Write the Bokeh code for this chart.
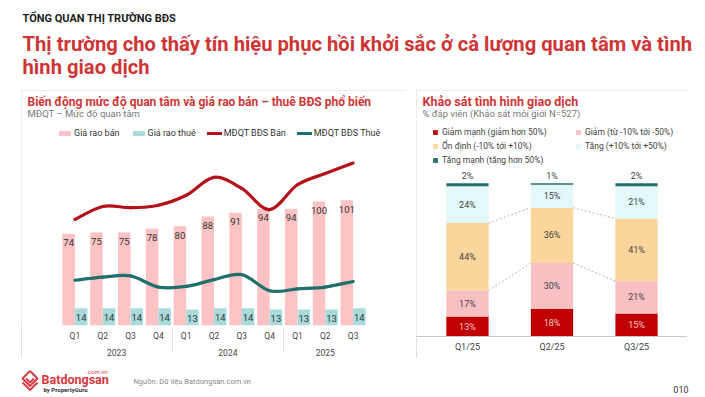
from bokeh.plotting import figure
from bokeh.models import (FactorRange, Range1d, Label, Legend, LegendItem,
                          ColumnDataSource, Spacer)
from bokeh.transform import dodge
from bokeh.layouts import column, row
from bokeh.embed import file_html
from bokeh.resources import INLINE
from bokeh.core.properties import value

FONT = "Roboto"
RED_TITLE = "#cf3535"
BORDER = "#d9d9d9"

# ---------------- Left chart data ----------------
years = ["2023", "2023", "2023", "2023", "2024", "2024", "2024", "2024", "2025", "2025", "2025"]
quarters = ["Q1", "Q2", "Q3", "Q4", "Q1", "Q2", "Q3", "Q4", "Q1", "Q2", "Q3"]
gia_ban = [74, 75, 75, 78, 80, 88, 91, 94, 94, 100, 101]
gia_thue = [14, 14, 14, 14, 13, 14, 14, 13, 13, 13, 14]
mdqt_ban = [85.5, 96, 95, 97, 105, 119.5, 110.5, 93.5, 113.5, 122.5, 131]
mdqt_thue = [36.5, 39, 40, 31, 31.5, 37, 41, 28, 29.5, 31, 35.5]

# ---------------- Right chart data ----------------
periods = ["Q1/25", "Q2/25", "Q3/25"]
giam_manh = [13, 18, 15]
giam = [17, 30, 21]
on_dinh = [44, 36, 41]
tang = [24, 15, 21]
tang_manh = [2, 1, 2]
series_names = ["Giảm mạnh (giảm hơn 50%)", "Giảm (từ -10% tới -50%)", "Ổn định (-10% tới +10%)",
                "Tăng (+10% tới +50%)", "Tăng mạnh (tăng hơn 50%)"]
series_colors = ["#c00000", "#f8c0c2", "#fad69c", "#e3f8f9", "#22706e"]


def base_fig(**kw):
    p = figure(output_backend="svg", toolbar_location=None, **kw)
    p.grid.visible = False
    p.outline_line_color = None
    p.background_fill_color = "white"
    p.border_fill_color = "white"
    p.frame_align = False
    return p


def panel_border(p):
    p.styles = {"outline": f"1px solid {BORDER}", "outline-offset": "-1px"}


# ================= Header =================
pH = base_fig(width=705, height=90, x_range=Range1d(0, 705), y_range=Range1d(90, 0),
              x_axis_location=None, y_axis_location=None, min_border=0)
pH.add_layout(Label(x=22, y=18, text="TỔNG QUAN THỊ TRƯỜNG BĐS", text_font=FONT,
                    text_font_size="11px", text_font_style="bold", text_color="#1e1e1e",
                    text_baseline="middle"))
pH.add_layout(Label(x=22, y=43, text="Thị trường cho thấy tín hiệu phục hồi khởi sắc ở cả lượng quan tâm và tình",
                    text_font=FONT, text_font_size="20.2px", text_font_style="bold",
                    text_color=RED_TITLE, text_baseline="middle"))
pH.add_layout(Label(x=22, y=66, text="hình giao dịch", text_font=FONT, text_font_size="20.2px",
                    text_font_style="bold", text_color=RED_TITLE, text_baseline="middle"))

# ================= Left panel =================
factors = list(zip(years, quarters))
xrL = FactorRange(*factors, group_padding=0, factor_padding=0,
                  range_padding=44 / 31, range_padding_units="absolute")
pL = base_fig(width=385, height=268, x_range=xrL, y_range=Range1d(0, 235 / 1.24),
              y_axis_location=None, min_border_left=0, min_border_right=0,
              min_border_top=0, min_border_bottom=33)

srcL = ColumnDataSource(dict(x=factors, ban=gia_ban, thue=gia_thue,
                             ban_s=[str(v) for v in gia_ban], thue_s=[str(v) for v in gia_thue]))
r_ban = pL.vbar(x=dodge("x", -0.225, range=xrL), top="ban", width=0.45, source=srcL,
                fill_color="#fbc3c3", line_color=None)
r_thue = pL.vbar(x=dodge("x", 0.225, range=xrL), top="thue", width=0.45, source=srcL,
                 fill_color="#a9dbdc", line_color=None)
pL.text(x=dodge("x", -0.225, range=xrL), y="ban", text="ban_s", source=srcL, y_offset=9,
        text_align="center", text_baseline="middle", text_font=value(FONT),
        text_font_size="9.5px", text_color="#333333")
pL.text(x=dodge("x", 0.225, range=xrL), y="thue", text="thue_s", source=srcL, y_offset=9,
        text_align="center", text_baseline="middle", text_font=value(FONT),
        text_font_size="9.5px", text_color="#333333")


def smooth_bezier(ys):
    """Catmull-Rom style smoothing expressed as cubic Bezier control points (categorical offsets)."""
    n = len(ys)
    d = dict(x0=[], y0=[], x1=[], y1=[], cx0=[], cy0=[], cx1=[], cy1=[])
    for i in range(n - 1):
        pm = max(i - 1, 0)
        pp = min(i + 2, n - 1)
        d["x0"].append(factors[i]); d["y0"].append(ys[i])
        d["x1"].append(factors[i + 1]); d["y1"].append(ys[i + 1])
        d["cx0"].append((*factors[i], (i + 1 - pm) / 6))
        d["cy0"].append(ys[i] + (ys[i + 1] - ys[pm]) / 6)
        d["cx1"].append((*factors[i + 1], -(pp - i) / 6))
        d["cy1"].append(ys[i + 1] - (ys[pp] - ys[i]) / 6)
    return ColumnDataSource(d)


r_mb = pL.bezier(x0="x0", y0="y0", x1="x1", y1="y1", cx0="cx0", cy0="cy0", cx1="cx1", cy1="cy1",
                 source=smooth_bezier(mdqt_ban), line_color="#b3121a",
                 line_width=3.2, line_cap="round")
r_mt = pL.bezier(x0="x0", y0="y0", x1="x1", y1="y1", cx0="cx0", cy0="cy0", cx1="cx1", cy1="cy1",
                 source=smooth_bezier(mdqt_thue), line_color="#1f6f6d",
                 line_width=3.2, line_cap="round")

legL = Legend(items=[LegendItem(label="Giá rao bán", renderers=[r_ban]),
                     LegendItem(label="Giá rao thuê", renderers=[r_thue]),
                     LegendItem(label="MĐQT BĐS Bán", renderers=[r_mb]),
                     LegendItem(label="MĐQT BĐS Thuê", renderers=[r_mt])],
              orientation="horizontal", location=(36, 187), glyph_width=15, glyph_height=6,
              label_height=10, label_standoff=2, spacing=11, padding=0, margin=0,
              border_line_color=None, background_fill_alpha=0, label_text_font_size="9px",
              label_text_color="#333333", label_text_font=FONT)
pL.add_layout(legL)

axL = pL.xaxis[0]
axL.major_tick_line_color = None
axL.major_tick_out = 0
axL.major_tick_in = 0
axL.axis_line_color = None
axL.major_label_text_font = FONT
axL.major_label_text_font_size = "8.5px"
axL.major_label_text_color = "#444444"
axL.group_text_font = FONT
axL.group_text_font_size = "8.5px"
axL.group_text_font_style = "normal"
axL.group_text_color = "#444444"
axL.separator_line_color = "#e2e2e2"
axL.separator_line_width = 1
axL.major_label_standoff = 5

pL.add_layout(Label(x=6, y=224, x_units="screen", y_units="screen",
                    text="Biến động mức độ quan tâm và giá rao bán – thuê BĐS phổ biến",
                    text_font=FONT, text_font_size="12px", text_font_style="bold",
                    text_color=RED_TITLE, text_baseline="middle"))
pL.add_layout(Label(x=6, y=212, x_units="screen", y_units="screen",
                    text="MĐQT – Mức độ quan tâm", text_font=FONT, text_font_size="9.5px",
                    text_color="#777777", text_baseline="middle"))
panel_border(pL)

# ================= Right panel =================
xrR = FactorRange(*periods, factor_padding=0, range_padding=9 / 87.3, range_padding_units="absolute")
pR = base_fig(width=271, height=268, x_range=xrR, y_range=Range1d(0, 246 / 1.533),
              y_axis_location=None, min_border_left=0, min_border_right=0,
              min_border_top=0, min_border_bottom=22)

keys = ["gm", "g", "od", "t", "tm"]
vals = [giam_manh, giam, on_dinh, tang, tang_manh]
srcR = ColumnDataSource(dict(x=periods, **{k: v for k, v in zip(keys, vals)}))
rs = pR.vbar_stack(keys, x="x", width=0.5, source=srcR, fill_color=series_colors, line_color=None)

# segment labels
lab = dict(x=[], y=[], t=[], c=[], off=[])
for j in range(len(periods)):
    cum = 0
    for k, v in enumerate(vals):
        val = v[j]
        if k == len(vals) - 1:
            lab["y"].append(cum + val); lab["off"].append(-7)
        else:
            lab["y"].append(cum + val / 2); lab["off"].append(0)
        lab["x"].append(periods[j]); lab["t"].append(f"{val}%")
        lab["c"].append("#f6c9c9" if k == 0 else "#444444")
        cum += val
srcLab = ColumnDataSource(lab)
pR.text(x="x", y="y", text="t", text_color="c", y_offset="off", source=srcLab,
        text_align="center", text_baseline="middle", text_font=value(FONT), text_font_size="9px")

# dashed connectors around "Ổn định" segment
con = dict(x0=[], x1=[], y0=[], y1=[])
for j in range(len(periods) - 1):
    for lvl in (2, 3):
        con["x0"].append(periods[j]); con["x1"].append(periods[j + 1])
        con["y0"].append(sum(v[j] for v in vals[:lvl]))
        con["y1"].append(sum(v[j + 1] for v in vals[:lvl]))
pR.segment(x0=dodge("x0", 0.25, range=xrR), y0="y0", x1=dodge("x1", -0.25, range=xrR), y1="y1",
           source=ColumnDataSource(con), line_color="#b5b5b5", line_width=1, line_dash="2 2")

legR = Legend(items=[LegendItem(label=n, renderers=[r]) for n, r in zip(series_names, rs)],
              orientation="horizontal", ncols=2, location=(16, 171), glyph_width=6, glyph_height=6,
              label_height=10, label_width=129, label_standoff=4, spacing=4, padding=0, margin=0,
              border_line_color=None, background_fill_alpha=0, label_text_font_size="8.5px",
              label_text_color="#444444", label_text_font=FONT)
pR.add_layout(legR)

axR = pR.xaxis[0]
axR.major_tick_line_color = None
axR.major_tick_out = 0
axR.major_tick_in = 0
axR.axis_line_color = "#c8c8c8"
axR.major_label_text_font = FONT
axR.major_label_text_font_size = "9px"
axR.major_label_text_color = "#444444"
axR.major_label_standoff = 5

pR.add_layout(Label(x=6, y=235, x_units="screen", y_units="screen",
                    text="Khảo sát tình hình giao dịch", text_font=FONT, text_font_size="12.5px",
                    text_font_style="bold", text_color=RED_TITLE, text_baseline="middle"))
pR.add_layout(Label(x=6, y=223, x_units="screen", y_units="screen",
                    text="% đáp viên (Khảo sát môi giới N=527)", text_font=FONT,
                    text_font_size="9.5px", text_color="#777777", text_baseline="middle"))
panel_border(pR)

# ================= Footer =================
pF = base_fig(width=705, height=39, x_range=Range1d(0, 705), y_range=Range1d(397, 358),
              x_axis_location=None, y_axis_location=None, min_border=0)
pF.multi_line(xs=[[29.5, 37, 29.5, 22, 29.5], [22, 29.5, 37], [25.5, 29.5, 33.5]],
              ys=[[370.5, 378, 385.5, 378, 370.5], [382, 389.5, 382], [378, 382, 378]],
              line_color="#d8383d", line_width=1.8, line_join="round")
pF.add_layout(Label(x=41, y=378.5, text="Batdongsan", text_font=FONT, text_font_size="12.5px",
                    text_font_style="bold", text_color="#d8383d", text_baseline="middle"))
pF.add_layout(Label(x=107, y=371, text=".com.vn", text_font=FONT, text_font_size="6px",
                    text_color="#d8383d", text_baseline="middle", text_align="right"))
pF.add_layout(Label(x=43, y=389, text="by PropertyGuru", text_font=FONT, text_font_size="6px",
                    text_font_style="bold", text_color="#333333", text_baseline="middle"))
pF.add_layout(Label(x=133, y=381, text="Nguồn: Dữ liệu Batdongsan.com.vn", text_font=FONT,
                    text_font_size="7.5px", text_color="#8a8a8a", text_baseline="middle"))
pF.add_layout(Label(x=688, y=389, text="010", text_font=FONT, text_font_size="9px",
                    text_color="#333333", text_baseline="middle", text_align="right"))

layout = column(pH,
                row(Spacer(width=21, height=268), pL, Spacer(width=10, height=268), pR),
                pF)

open("out.html", "w").write(file_html(layout, INLINE))
